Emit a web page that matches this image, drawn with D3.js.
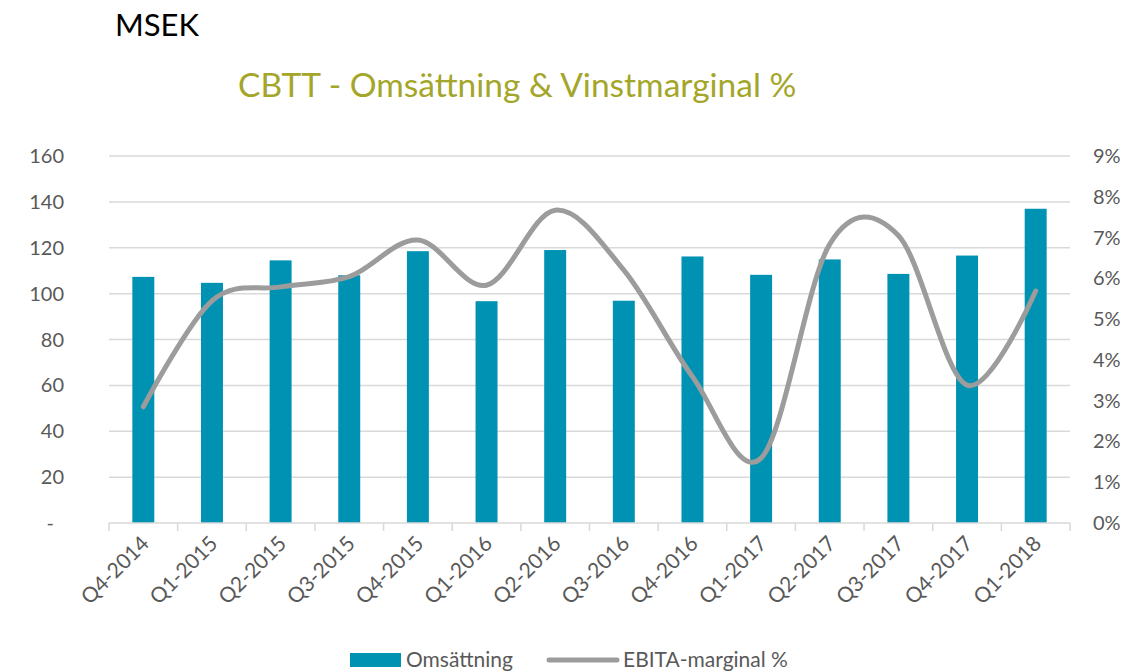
<!DOCTYPE html>
<html>
<head>
<meta charset="utf-8">
<script src="https://cdn.jsdelivr.net/npm/d3@7"></script>
<style>
  body { margin: 0; background: white; }
  text { font-family: Lato, "Open Sans", sans-serif; }
</style>
</head>
<body>
<div id="chart"></div>
<script>
const quarters = ["Q4-2014", "Q1-2015", "Q2-2015", "Q3-2015", "Q4-2015", "Q1-2016", "Q2-2016",
    "Q3-2016", "Q4-2016", "Q1-2017", "Q2-2017", "Q3-2017", "Q4-2017", "Q1-2018"]
const omsattning = [107.3, 104.7, 114.5, 108, 118.5, 96.7, 119, 96.9, 116.2, 108.2, 114.9, 108.6, 116.6, 137]
const ebitaMarginal = [2.85, 5.45, 5.79, 6.04, 6.94, 5.83, 7.67, 6.2, 3.59, 1.59, 6.84, 7.05, 3.38, 5.69]
const leftTicks = [0, 20, 40, 60, 80, 100, 120, 140, 160]
const rightTicks = [0, 1, 2, 3, 4, 5, 6, 7, 8, 9]

const sizing = { width: 1145, height: 671 }
const margin = { top: 156, bot: 148, left: 109, right: 75 }
const plotW = sizing.width - margin.left - margin.right
const plotH = sizing.height - margin.top - margin.bot

const textColor = "#595959"
const gridColor = "#d9d9d9"
const barColor = "#0092b3"
const lineColor = "#9c9c9c"

const svg = d3.select("#chart").append("svg")
    .attr("width", sizing.width)
    .attr("height", sizing.height)

svg.append("rect")
    .attr("width", "100%")
    .attr("height", "100%")
    .attr("fill", "white")

svg.append("text")
    .text("MSEK")
    .attr("x", 115)
    .attr("y", 36)
    .attr("font-size", 31)
    .attr("fill", "black")

svg.append("text")
    .text("CBTT - Omsättning & Vinstmarginal %")
    .attr("x", 238)
    .attr("y", 97)
    .attr("font-size", 33.5)
    .attr("fill", "#a3a629")

const g = svg.append("g")
    .attr("transform", `translate(${margin.left},${margin.top})`)

const x = d3.scaleBand().domain(quarters).range([0, plotW]).padding(0)
const y = d3.scaleLinear().domain([0, 160]).range([plotH, 0])
const y2 = d3.scaleLinear().domain([0, 9]).range([plotH, 0])

// gridlines
g.append("g").selectAll("line")
    .data(leftTicks.filter(d => d > 0))
    .join("line")
    .attr("x1", 0).attr("x2", plotW)
    .attr("y1", d => y(d)).attr("y2", d => y(d))
    .attr("stroke", gridColor)
    .attr("stroke-width", 1.5)

// left axis labels
g.append("g").selectAll("text")
    .data(leftTicks)
    .join("text")
    .text(d => d === 0 ? "-" : d)
    .attr("x", d => d === 0 ? -55 : -45)
    .attr("y", d => y(d))
    .attr("dy", "0.35em")
    .attr("text-anchor", "end")
    .attr("font-size", 20)
    .attr("fill", textColor)

// right axis labels
g.append("g").selectAll("text")
    .data(rightTicks)
    .join("text")
    .text(d => d + "%")
    .attr("x", plotW + 23)
    .attr("y", d => y2(d))
    .attr("dy", "0.35em")
    .attr("font-size", 20)
    .attr("fill", textColor)

// bars
const barW = x.bandwidth() * 0.32
g.append("g").selectAll("rect")
    .data(quarters)
    .join("rect")
    .attr("x", (d, i) => x(d) + (x.bandwidth() - barW) / 2)
    .attr("width", barW)
    .attr("y", (d, i) => y(omsattning[i]))
    .attr("height", (d, i) => plotH - y(omsattning[i]))
    .attr("fill", barColor)

// x axis line and ticks
const xAxis = g.append("g").attr("transform", `translate(0,${plotH})`)
xAxis.append("line")
    .attr("x1", 0).attr("x2", plotW)
    .attr("stroke", gridColor).attr("stroke-width", 1.5)
xAxis.selectAll(".tick")
    .data(quarters.map(d => x(d)).concat([plotW]))
    .join("line")
    .attr("x1", d => d).attr("x2", d => d)
    .attr("y1", 0).attr("y2", 8)
    .attr("stroke", gridColor).attr("stroke-width", 1.5)

xAxis.selectAll("text")
    .data(quarters)
    .join("text")
    .text(d => d)
    .attr("text-anchor", "end")
    .attr("font-size", 21)
    .attr("fill", textColor)
    .attr("transform", d => `translate(${x(d) + x.bandwidth() / 2 + 7},${22}) rotate(-45)`)

// line
const line = d3.line()
    .x((d, i) => x(quarters[i]) + x.bandwidth() / 2)
    .y(d => y2(d))
    .curve(d3.curveCardinal.tension(0))

g.append("path")
    .datum(ebitaMarginal)
    .attr("d", line)
    .attr("fill", "none")
    .attr("stroke", lineColor)
    .attr("stroke-width", 5)
    .attr("stroke-linecap", "round")

// legend
const legend = svg.append("g")
legend.append("rect")
    .attr("x", 350).attr("y", 653)
    .attr("width", 51).attr("height", 14)
    .attr("fill", barColor)
legend.append("text")
    .text("Omsättning")
    .attr("x", 406).attr("y", 667)
    .attr("font-size", 21)
    .attr("fill", textColor)
legend.append("line")
    .attr("x1", 549).attr("x2", 617)
    .attr("y1", 660).attr("y2", 660)
    .attr("stroke", lineColor)
    .attr("stroke-width", 5)
    .attr("stroke-linecap", "round")
legend.append("text")
    .text("EBITA-marginal %")
    .attr("x", 623).attr("y", 667)
    .attr("font-size", 21)
    .attr("fill", textColor)
</script>
</body>
</html>
